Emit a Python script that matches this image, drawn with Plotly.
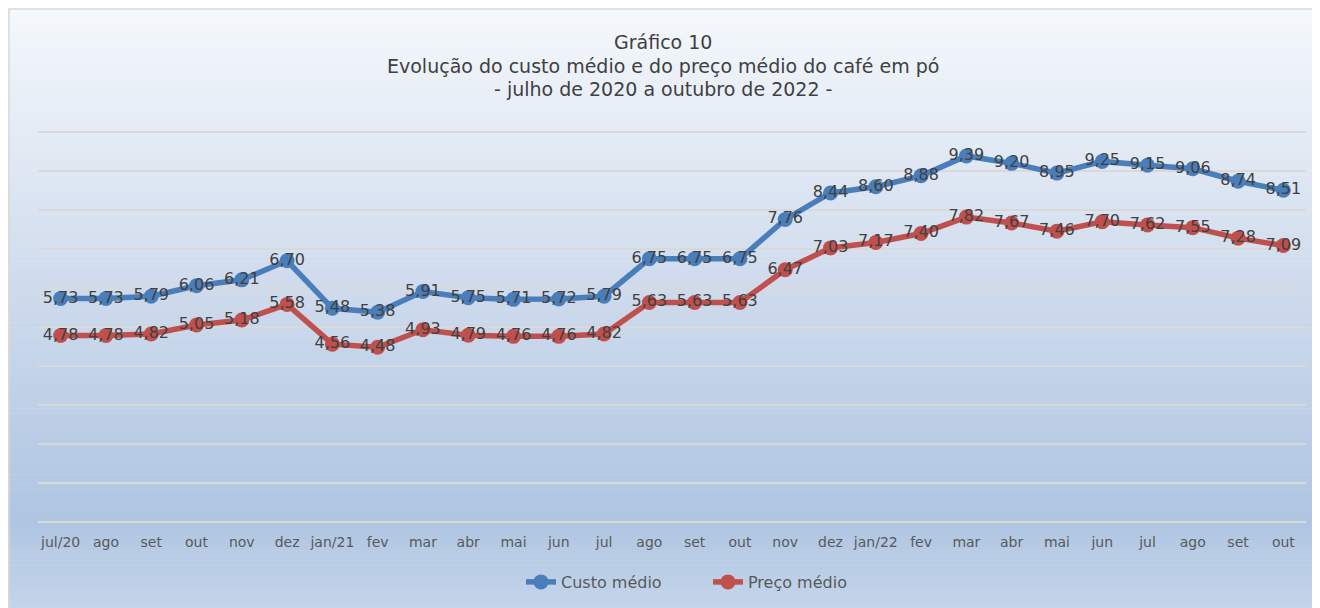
import plotly.graph_objects as go

categories = ["jul/20", "ago", "set", "out", "nov", "dez", "jan/21", "fev", "mar", "abr",
              "mai", "jun", "jul", "ago", "set", "out", "nov", "dez", "jan/22", "fev",
              "mar", "abr", "mai", "jun", "jul", "ago", "set", "out"]
custo_medio = [5.73, 5.73, 5.79, 6.06, 6.21, 6.70, 5.48, 5.38, 5.91, 5.75, 5.71, 5.72, 5.79,
               6.75, 6.75, 6.75, 7.76, 8.44, 8.60, 8.88, 9.39, 9.20, 8.95, 9.25, 9.15, 9.06,
               8.74, 8.51]
preco_medio = [4.78, 4.78, 4.82, 5.05, 5.18, 5.58, 4.56, 4.48, 4.93, 4.79, 4.76, 4.76, 4.82,
               5.63, 5.63, 5.63, 6.47, 7.03, 7.17, 7.40, 7.82, 7.67, 7.46, 7.70, 7.62, 7.55,
               7.28, 7.09]
title_lines = ["Gráfico 10",
               "Evolução do custo médio e do preço médio do café em pó",
               "- julho de 2020 a outubro de 2022 -"]

W, H = 1320, 608
L, T = 30, 123
R = W - 1298
B = H - 515
pw, ph = W - L - R, H - T - B
x = list(range(len(categories)))

fig = go.Figure()
for name, vals, color in [("Custo médio", custo_medio, "#4A7EBB"),
                          ("Preço médio", preco_medio, "#C0504D")]:
    fig.add_trace(go.Scatter(
        x=x, y=vals, name=name, mode="lines+markers+text",
        line=dict(color=color, width=5.5),
        marker=dict(color=color, size=15),
        text=[f"{v:.2f}".replace(".", ",") for v in vals],
        textposition="middle center",
        textfont=dict(family="DejaVu Sans", size=16, color="#404040"),
        cliponaxis=False,
    ))

# gradient background via stripes (figure pixel rows -> paper coords)
def lerp(a, b, t):
    return tuple(int(round(a[i] + (b[i] - a[i]) * t)) for i in range(3))

stops = [(0, (245, 248, 252)), (290, (205, 218, 236)), (512, (175, 197, 225)), (608, (198, 214, 235))]
shapes = []
n = 120
for i in range(n):
    y0p = H * i / n
    y1p = H * (i + 1) / n
    ym = (y0p + y1p) / 2
    c = stops[-1][1]
    for j in range(len(stops) - 1):
        if stops[j][0] <= ym <= stops[j + 1][0]:
            t = (ym - stops[j][0]) / (stops[j + 1][0] - stops[j][0])
            c = lerp(stops[j][1], stops[j + 1][1], t)
            break
    shapes.append(dict(type="rect", xref="paper", yref="paper", layer="below",
                       x0=(0 - L) / pw, x1=(W - L) / pw,
                       y0=(H - B - y1p - 0.5) / ph, y1=(H - B - y0p) / ph,
                       fillcolor="rgb(%d,%d,%d)" % c, line=dict(width=0)))
shapes.append(dict(type="rect", xref="paper", yref="paper", layer="below",
                   x0=(1 - L) / pw, x1=(W + 5 - L) / pw,
                   y0=(H - B - (H + 5)) / ph, y1=(H - B - 1) / ph,
                   fillcolor="rgba(0,0,0,0)", line=dict(color="#D9D9D9", width=1.5)))

annotations = []
for line, ypx in zip(title_lines, [34, 58, 81]):
    annotations.append(dict(text=line, xref="paper", yref="paper",
                            x=(655 - L) / pw, y=(H - B - ypx) / ph,
                            xanchor="center", yanchor="middle", showarrow=False,
                            font=dict(family="DejaVu Sans", size=19, color="#404040")))

fig.update_layout(
    width=W, height=H,
    margin=dict(l=L, r=R, t=T, b=B, autoexpand=False),
    paper_bgcolor="white", plot_bgcolor="rgba(0,0,0,0)",
    shapes=shapes,
    annotations=annotations,
    xaxis=dict(tickvals=x, ticktext=categories, range=[-0.5, len(x) - 0.5],
               showgrid=False, zeroline=False, showline=False,
               ticks="outside", ticklen=6, tickcolor="rgba(0,0,0,0)",
               tickfont=dict(family="DejaVu Sans", size=14, color="#595959")),
    yaxis=dict(range=[-0.03, 10.03], tickvals=list(range(11)), showticklabels=False,
               showgrid=True, gridcolor="#D9D9D9", gridwidth=2, zeroline=False, showline=False),
    legend=dict(orientation="h", x=700 / W, xanchor="center", xref="container",
                y=1 - 574 / H, yref="container", yanchor="middle",
                bgcolor="rgba(0,0,0,0)", entrywidth=142,
                font=dict(family="DejaVu Sans", size=16, color="#595959")),
    showlegend=True,
)

fig.write_html("out.html")
